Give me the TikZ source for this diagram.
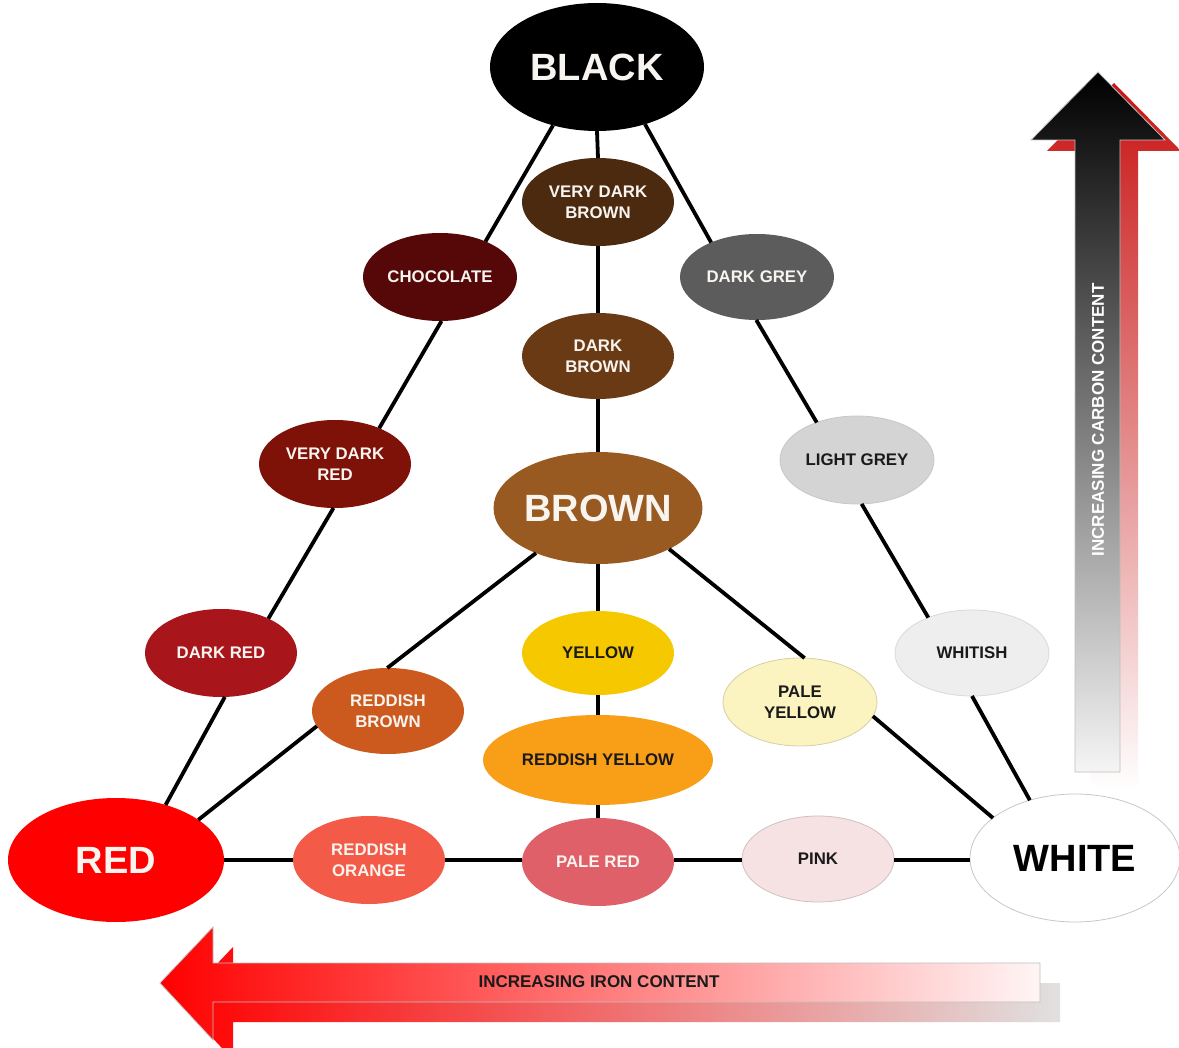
\documentclass[tikz,border=0pt]{standalone}
\usepackage{fontspec}
\setmainfont{Liberation Sans}
\usetikzlibrary{shapes.geometric}
\definecolor{cVDBrown}{HTML}{4B2A10}
\definecolor{cChoc}{HTML}{560708}
\definecolor{cDGrey}{HTML}{5C5C5C}
\definecolor{cDBrown}{HTML}{6A3A15}
\definecolor{cVDRed}{HTML}{7E1208}
\definecolor{cLGrey}{HTML}{D4D4D4}
\definecolor{cBrown}{HTML}{985A20}
\definecolor{cDRed}{HTML}{A8161C}
\definecolor{cYellow}{HTML}{F5C800}
\definecolor{cWhitish}{HTML}{EEEEEE}
\definecolor{cRBrown}{HTML}{CC5A1E}
\definecolor{cPYellow}{HTML}{FBF4C0}
\definecolor{cRYellow}{HTML}{F99E17}
\definecolor{cRed}{HTML}{FF0000}
\definecolor{cROrange}{HTML}{F35A48}
\definecolor{cPRed}{HTML}{DF6068}
\definecolor{cPink}{HTML}{F6E2E2}
\definecolor{cDarkText}{HTML}{1A1A1A}
\definecolor{cLightText}{HTML}{F8F4F0}
\definecolor{cShadowRed}{HTML}{C81414}
\tikzset{
  blob/.style={ellipse, inner sep=0pt, outer sep=0pt, align=center,
    text=cLightText, font=\bfseries\fontsize{8.4}{10.5}\selectfont},
  darktext/.style={text=cDarkText},
  bigtext/.style={font=\bfseries\fontsize{19}{20}\selectfont},
  conn/.style={line width=1.9pt, black},
  arrowedge/.style={draw=black!25, line width=0.4pt},
}
\begin{document}
\begin{tikzpicture}[x=0.5pt,y=-0.5pt]
\fill[white] (0,0) rectangle (1179,1048);
\useasboundingbox (0,0) rectangle (1179,1048);

% ---- carbon arrow (vertical) ----
\shade[top color=cShadowRed, bottom color=white]
  (1091,790) -- (1091,151) -- (1047,151) -- (1114,83) -- (1181,151)
  -- (1138,151) -- (1138,790) -- cycle;
\shade[top color=black, bottom color=black!4, arrowedge]
  (1075,772) -- (1075,140) -- (1031,140) -- (1098,72) -- (1165,140)
  -- (1120,140) -- (1120,772) -- cycle;
\node[rotate=90, text=white, font=\bfseries\fontsize{8.5}{10}\selectfont]
  (carbonlabel) at (1098,420) {INCREASING CARBON CONTENT};

% ---- iron arrow (horizontal) ----
\shade[left color=cRed, right color=black!12]
  (1060,983) -- (233,983) -- (233,947) -- (180,1003) -- (233,1060)
  -- (233,1022) -- (1060,1022) -- cycle;
\shade[left color=cRed, right color=red!4, arrowedge]
  (1040,963) -- (213,963) -- (213,927) -- (160,983) -- (213,1040)
  -- (213,1002) -- (1040,1002) -- cycle;
\node[text=cDarkText, font=\bfseries\fontsize{8.5}{10}\selectfont]
  (ironlabel) at (599,982) {INCREASING IRON CONTENT};

% ---- nodes ----
\node[blob, bigtext, fill=black, minimum width=107pt, minimum height=64pt] (black) at (597,67) {BLACK};
\node[blob, fill=cVDBrown, minimum width=76pt, minimum height=44pt] (vdbrown) at (598,202) {VERY DARK\\BROWN};
\node[blob, fill=cChoc, minimum width=77pt, minimum height=44pt] (choc) at (440,277) {CHOCOLATE};
\node[blob, fill=cDGrey, minimum width=77pt, minimum height=43pt] (dgrey) at (757,277) {DARK GREY};
\node[blob, fill=cDBrown, minimum width=76pt, minimum height=43pt] (dbrown) at (598,356) {DARK\\BROWN};
\node[blob, fill=cVDRed, minimum width=76pt, minimum height=44pt] (vdred) at (335,464) {VERY DARK\\RED};
\node[blob, darktext, fill=cLGrey, draw=black!22, line width=0.4pt, minimum width=77pt, minimum height=44pt] (lgrey) at (857,460) {LIGHT GREY};
\node[blob, bigtext, fill=cBrown, minimum width=102pt, minimum height=56pt] (brown) at (598,508) {BROWN};
\node[blob, fill=cDRed, minimum width=76pt, minimum height=44pt] (dred) at (221,653) {DARK RED};
\node[blob, darktext, fill=cYellow, minimum width=76pt, minimum height=42pt] (yellow) at (598,653) {YELLOW};
\node[blob, darktext, fill=cWhitish, draw=black!15, line width=0.4pt, minimum width=77pt, minimum height=43pt] (whitish) at (972,653) {WHITISH};
\node[blob, fill=cRBrown, minimum width=76pt, minimum height=43pt] (rbrown) at (388,711) {REDDISH\\BROWN};
\node[blob, darktext, fill=cPYellow, draw=cPYellow!85!black, line width=0.4pt, minimum width=77pt, minimum height=44pt] (pyellow) at (800,702) {PALE\\YELLOW};
\node[blob, darktext, fill=cRYellow, minimum width=115pt, minimum height=45pt] (ryellow) at (598,760) {REDDISH YELLOW};
\node[blob, bigtext, fill=cRed, minimum width=108pt, minimum height=62pt] (red) at (116,860) {RED};
\node[blob, fill=cROrange, minimum width=76pt, minimum height=44pt] (rorange) at (369,860) {REDDISH\\ORANGE};
\node[blob, fill=cPRed, minimum width=76pt, minimum height=44pt] (pred) at (598,862) {PALE RED};
\node[blob, darktext, fill=cPink, draw=cPink!85!black, line width=0.4pt, minimum width=76pt, minimum height=43pt] (pink) at (818,859) {PINK};
\node[blob, bigtext, text=black, fill=white, draw=black!22, line width=0.4pt, minimum width=105pt, minimum height=64pt] (white) at (1075,858) {WHITE};

% ---- connectors ----
% left side: black - chocolate - very dark red - dark red - red
\draw[conn] (black.233) -- (choc.38);
\draw[conn] (choc.272) -- (vdred.39);
\draw[conn] (vdred.268) -- (dred.36);
\draw[conn] (dred.275) -- (red.48);
% centre column
\draw[conn] (black.270) -- (vdbrown.90);
\draw[conn] (vdbrown.270) -- (dbrown.90);
\draw[conn] (dbrown.270) -- (brown.90);
\draw[conn] (brown.270) -- (yellow.90);
\draw[conn] (yellow.270) -- (ryellow.90);
\draw[conn] (ryellow.270) -- (pred.90);
% right side: black - dark grey - light grey - whitish - white
\draw[conn] (black.310) -- (dgrey.143);
\draw[conn] (dgrey.269) -- (lgrey.137);
\draw[conn] (lgrey.276) -- (whitish.141);
\draw[conn] (whitish.270) -- (white.128);
% inner diagonals
\draw[conn] (brown.216) -- (rbrown.91);
\draw[conn] (rbrown.192) -- (red.26);
\draw[conn] (brown.330) -- (pyellow.84);
\draw[conn] (pyellow.349) -- (white.154);
% bottom row (horizontal)
\draw[conn] (red.0) -- (rorange.west |- red.0);
\draw[conn] (rorange.east) -- (pred.west |- rorange.east);
\draw[conn] (pred.east |- rorange.east) -- (pink.west |- rorange.east);
\draw[conn] (pink.east |- rorange.east) -- (white.west |- rorange.east);
\end{tikzpicture}
\end{document}
